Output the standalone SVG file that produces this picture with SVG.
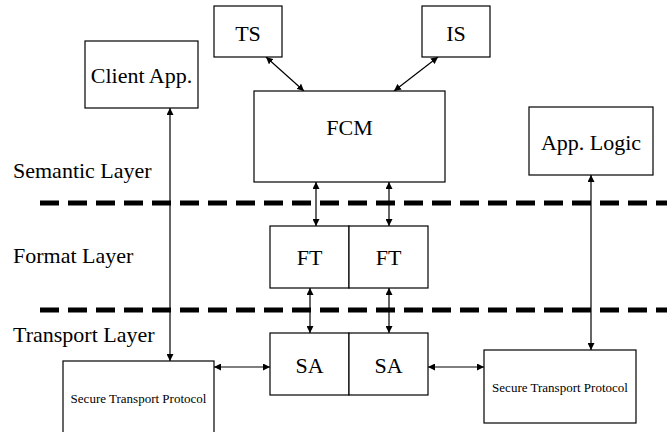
<svg xmlns="http://www.w3.org/2000/svg" width="667" height="432" viewBox="0 0 667 432">
<style>
.box{fill:#fff;stroke:#000;stroke-width:1.2}
.t{font-family:"Liberation Serif","Times New Roman",serif;font-size:22px;fill:#000;text-anchor:middle}
.lbl{font-family:"Liberation Serif","Times New Roman",serif;font-size:22px;fill:#000}
.s{font-family:"Liberation Serif","Times New Roman",serif;font-size:13px;fill:#000;text-anchor:middle}
.c{stroke:#000;stroke-width:1.2;fill:none;marker-start:url(#ah);marker-end:url(#ah)}
.d{stroke:#000;stroke-width:5;stroke-dasharray:19 9;fill:none}
</style>
<defs>
<marker id="ah" viewBox="0 0 10 10" refX="10" refY="5" markerWidth="7" markerHeight="7" markerUnits="userSpaceOnUse" orient="auto-start-reverse">
<path d="M0,0 L10,5 L0,10 z" fill="#000"/>
</marker>
</defs>
<rect width="667" height="432" fill="#fff"/>
<g id="layers">
<line class="d" x1="40" y1="203" x2="667" y2="203"/>
<line class="d" x1="40" y1="310" x2="667" y2="310"/>
<text class="lbl" x="13" y="178">Semantic Layer</text>
<text class="lbl" x="13" y="263">Format Layer</text>
<text class="lbl" x="13" y="342">Transport Layer</text>
</g>
<g id="connectors">
<line class="c" x1="170" y1="108" x2="170" y2="361"/>
<line class="c" x1="591" y1="175" x2="591" y2="350"/>
<line class="c" x1="316" y1="182" x2="316" y2="226"/>
<line class="c" x1="389" y1="182" x2="389" y2="226"/>
<line class="c" x1="310" y1="288" x2="310" y2="333"/>
<line class="c" x1="389" y1="288" x2="389" y2="333"/>
<line class="c" x1="266" y1="57" x2="304" y2="91"/>
<line class="c" x1="438" y1="57" x2="394" y2="91"/>
<line class="c" x1="214" y1="367" x2="270" y2="367"/>
<line class="c" x1="428" y1="367" x2="484" y2="367"/>
</g>
<g id="ts"><rect class="box" x="214" y="6" width="68" height="51"/><text class="t" x="248" y="41">TS</text></g>
<g id="is"><rect class="box" x="422" y="6" width="68" height="51"/><text class="t" x="456" y="41">IS</text></g>
<g id="client"><rect class="box" x="85" y="41" width="113" height="67"/><text class="t" x="141.5" y="83">Client App.</text></g>
<g id="fcm"><rect class="box" x="254" y="91" width="191" height="91"/><text class="t" x="349.5" y="135">FCM</text></g>
<g id="applogic"><rect class="box" x="529" y="107" width="124" height="68"/><text class="t" x="591" y="150">App. Logic</text></g>
<g id="ft1"><rect class="box" x="270" y="226" width="79" height="62"/><text class="t" x="309.5" y="265">FT</text></g>
<g id="ft2"><rect class="box" x="349" y="226" width="79" height="62"/><text class="t" x="388.5" y="265">FT</text></g>
<g id="sa1"><rect class="box" x="270" y="333" width="79" height="62"/><text class="t" x="309.5" y="373">SA</text></g>
<g id="sa2"><rect class="box" x="349" y="333" width="79" height="62"/><text class="t" x="388.5" y="373">SA</text></g>
<g id="stp1"><rect class="box" x="63" y="361" width="151" height="80"/><text class="s" x="138.5" y="403">Secure Transport Protocol</text></g>
<g id="stp2"><rect class="box" x="484" y="350" width="152" height="73"/><text class="s" x="560" y="392">Secure Transport Protocol</text></g>
</svg>
